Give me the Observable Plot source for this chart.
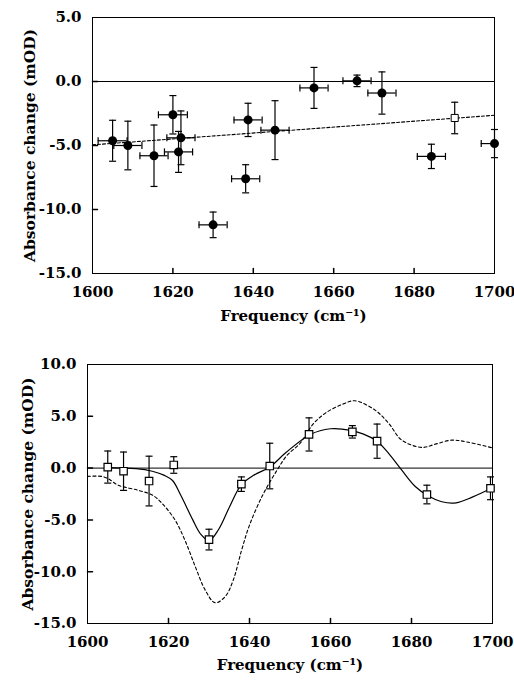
<!DOCTYPE html>
<html><head><meta charset="utf-8">
<script src="https://cdn.jsdelivr.net/npm/d3@7"></script>
<script src="https://cdn.jsdelivr.net/npm/@observablehq/plot@0.6"></script>
<style>body{margin:0;background:#fff}#c{width:514px;height:681px;position:relative;background:#fff}svg{display:block}</style>
</head><body><div id="c"></div>
<script>
// ---- Top panel data ----
const topFreq = [1605.0, 1608.8, 1615.3, 1620.0, 1621.4, 1622.0, 1630.0, 1638.1, 1638.7, 1645.4, 1655.1, 1665.8, 1672.0, 1684.3, 1700.0];
const topAbs  = [-4.63, -5.0, -5.8, -2.6, -5.5, -4.4, -11.2, -7.6, -3.0, -3.8, -0.5, 0.05, -0.9, -5.85, -4.85];
const topYErr = [1.6, 1.9, 2.4, 1.5, 1.6, 2.1, 1.0, 1.1, 1.3, 2.3, 1.6, 0.45, 1.65, 0.95, 1.1];
const topXErr = [3.6, 3.5, 3.5, 3.6, 3.5, 3.5, 3.5, 3.5, 3.5, 3.5, 3.5, 3.5, 3.5, 3.5, 3.3];
const openFreq = [1690.1];
const openAbs = [-2.85];
const openYErr = [1.23];
const trendFreq = [1600, 1700];
const trendAbs = [-4.95, -2.64];

// ---- Bottom panel data ----
const botFreq = [1605.0, 1608.9, 1615.2, 1621.3, 1630.0, 1638.0, 1645.0, 1654.7, 1665.4, 1671.5, 1683.8, 1699.5];
const botAbs  = [0.1, -0.3, -1.25, 0.3, -6.9, -1.55, 0.2, 3.25, 3.5, 2.6, -2.55, -1.95];
const botErr  = [1.55, 1.85, 2.4, 0.8, 1.0, 0.7, 2.2, 1.6, 0.6, 1.65, 0.9, 1.1];
const fitFreq = [1605, 1612, 1616, 1619, 1621, 1623, 1626, 1628, 1630, 1632.4, 1635, 1638, 1641, 1645, 1649, 1655, 1660, 1665, 1668, 1671.5, 1674.4, 1677.6, 1681, 1684, 1687.5, 1691, 1695, 1700];
const fitAbs  = [0.05, -0.05, -0.3, -0.7, -1.2, -2.6, -5.0, -6.4, -7.0, -5.9, -3.8, -1.6, -0.7, 0.1, 1.5, 3.25, 3.8, 3.65, 3.3, 2.6, 1.4, -0.2, -1.8, -2.65, -3.25, -3.35, -2.8, -1.9];
const specFreq = [1600, 1603.5, 1605, 1607.6, 1612.6, 1616, 1618.4, 1621.6, 1624.1, 1626.6, 1629.1, 1631.5, 1634, 1636, 1638, 1640, 1643.4, 1646.8, 1649.2, 1652.5, 1655.8, 1659.1, 1663.2, 1666, 1671, 1674.4, 1677.6, 1682.6, 1685.8, 1690, 1694, 1700];
const specAbs  = [-0.8, -0.8, -1.0, -1.65, -2.15, -2.6, -3.4, -5.0, -7.0, -9.5, -11.8, -13.0, -12.4, -10.8, -8.0, -5.5, -2.5, -0.2, 1.2, 2.4, 4.3, 5.4, 6.2, 6.5, 5.6, 4.3, 2.7, 2.0, 2.3, 2.7, 2.5, 1.95];

// ---- Axes ----
const xTicks = [1600, 1620, 1640, 1660, 1680, 1700];
const xInner = [1620, 1640, 1660, 1680];
const yTicksTop = [5, 0, -5, -10, -15];
const yInnerTop = [0, -5, -10];
const yTicksBot = [10, 5, 0, -5, -10, -15];
const yInnerBot = [5, 0, -5, -10];
const xLabel = "Frequency (cm\u207B\u00B9)";
const yLabel = "Absorbance change (mOD)";

const hcap = {draw(ctx, size) { const r = Math.sqrt(size / Math.PI); ctx.moveTo(-r, 0); ctx.lineTo(r, 0); }};
const vcap = {draw(ctx, size) { const r = Math.sqrt(size / Math.PI); ctx.moveTo(0, -r); ctx.lineTo(0, r); }};
const tickShape = {draw(ctx, l) { ctx.moveTo(0, 0); ctx.lineTo(0, -l); }};

const style = {fontFamily: "DejaVu Serif", fontWeight: "bold", fontSize: "15px", background: "white", color: "black"};

function axesMarks(yTicks, yInner, dyTitleX, dxTitleY) {
  return [
    Plot.frame({stroke: "black", strokeWidth: 1}),
    Plot.axisX({ticks: xTicks, tickSize: 0, tickPadding: 13, tickFormat: d => String(d), label: null, fontSize: 15}),
    Plot.axisY({ticks: yTicks, tickSize: 0, tickPadding: 11, tickFormat: d => d.toFixed(1), label: null, fontSize: 15}),
    Plot.vector(xInner, {x: d => d, frameAnchor: "bottom", length: 5, shape: tickShape, anchor: "start", stroke: "black"}),
    Plot.vector(yInner, {y: d => d, frameAnchor: "left", length: 5, rotate: 90, shape: tickShape, anchor: "start", stroke: "black"}),
    Plot.text([xLabel], {frameAnchor: "bottom", dy: dyTitleX, fontSize: 15, fontWeight: "bold"}),
    Plot.text([yLabel], {frameAnchor: "left", dx: dxTitleY, rotate: -90, textAnchor: "middle", fontSize: 15.5, fontWeight: "bold"}),
    Plot.ruleY([0], {stroke: "black", strokeWidth: 1})
  ];
}

const topIdx = topFreq.map((_, i) => i);
const topPlot = Plot.plot({
  width: 514, height: 340,
  marginLeft: 92, marginRight: 20, marginTop: 17, marginBottom: 67,
  style,
  x: {domain: [1600, 1700], axis: null},
  y: {domain: [-15, 5], axis: null},
  marks: [
    ...axesMarks(yTicksTop, yInnerTop, 47, -62),
    Plot.line(trendFreq.map((f, i) => ({f, a: trendAbs[i]})), {x: "f", y: "a", stroke: "black", strokeWidth: 1.1, strokeDasharray: "3,2"}),
    Plot.ruleX(topIdx, {x: i => topFreq[i], y1: i => topAbs[i] - topYErr[i], y2: i => topAbs[i] + topYErr[i], stroke: "black", strokeWidth: 1.2}),
    Plot.ruleY(topIdx, {y: i => topAbs[i], x1: i => topFreq[i] - topXErr[i], x2: i => Math.min(1700, topFreq[i] + topXErr[i]), stroke: "black", strokeWidth: 1.2}),
    Plot.dot(topIdx.flatMap(i => [{f: topFreq[i], a: topAbs[i] - topYErr[i]}, {f: topFreq[i], a: topAbs[i] + topYErr[i]}]), {x: "f", y: "a", symbol: hcap, r: 3.5, stroke: "black", strokeWidth: 1.2}),
    Plot.dot(topIdx.flatMap(i => [{f: topFreq[i] - topXErr[i], a: topAbs[i]}].concat(topFreq[i] + topXErr[i] <= 1700 ? [{f: topFreq[i] + topXErr[i], a: topAbs[i]}] : [])), {x: "f", y: "a", symbol: vcap, r: 3.5, stroke: "black", strokeWidth: 1.2}),
    Plot.dot(topIdx, {x: i => topFreq[i], y: i => topAbs[i], r: 4.5, fill: "black", stroke: "none"}),
    Plot.ruleX(openFreq.map((f, i) => i), {x: i => openFreq[i], y1: i => openAbs[i] - openYErr[i], y2: i => openAbs[i] + openYErr[i], stroke: "black", strokeWidth: 1.2}),
    Plot.dot(openFreq.flatMap((f, i) => [{f, a: openAbs[i] - openYErr[i]}, {f, a: openAbs[i] + openYErr[i]}]), {x: "f", y: "a", symbol: hcap, r: 3.5, stroke: "black", strokeWidth: 1.2}),
    Plot.dot(openFreq.map((f, i) => i), {x: i => openFreq[i], y: i => openAbs[i], symbol: "square", r: 4, fill: "white", stroke: "black", strokeWidth: 1})
  ]
});

const botIdx = botFreq.map((_, i) => i);
const botPlot = Plot.plot({
  width: 514, height: 341,
  marginLeft: 87, marginRight: 22, marginTop: 24, marginBottom: 58,
  style,
  x: {domain: [1600, 1700], axis: null},
  y: {domain: [-15, 10], axis: null},
  marks: [
    ...axesMarks(yTicksBot, yInnerBot, 46, -59),
    Plot.line(specFreq.map((f, i) => ({f, a: specAbs[i]})), {x: "f", y: "a", curve: "catmull-rom", stroke: "black", strokeWidth: 1.1, strokeDasharray: "3,2.5"}),
    Plot.line(fitFreq.map((f, i) => ({f, a: fitAbs[i]})), {x: "f", y: "a", curve: "catmull-rom", stroke: "black", strokeWidth: 1.2}),
    Plot.ruleX(botIdx, {x: i => botFreq[i], y1: i => botAbs[i] - botErr[i], y2: i => botAbs[i] + botErr[i], stroke: "black", strokeWidth: 1.2}),
    Plot.dot(botIdx.flatMap(i => [{f: botFreq[i], a: botAbs[i] - botErr[i]}, {f: botFreq[i], a: botAbs[i] + botErr[i]}]), {x: "f", y: "a", symbol: hcap, r: 3.5, stroke: "black", strokeWidth: 1.2}),
    Plot.dot(botIdx, {x: i => botFreq[i], y: i => botAbs[i], symbol: "square", r: 4.2, fill: "white", stroke: "black", strokeWidth: 1.2})
  ]
});

const c = document.getElementById("c");
c.appendChild(topPlot);
c.appendChild(botPlot);
</script>
</body></html>
